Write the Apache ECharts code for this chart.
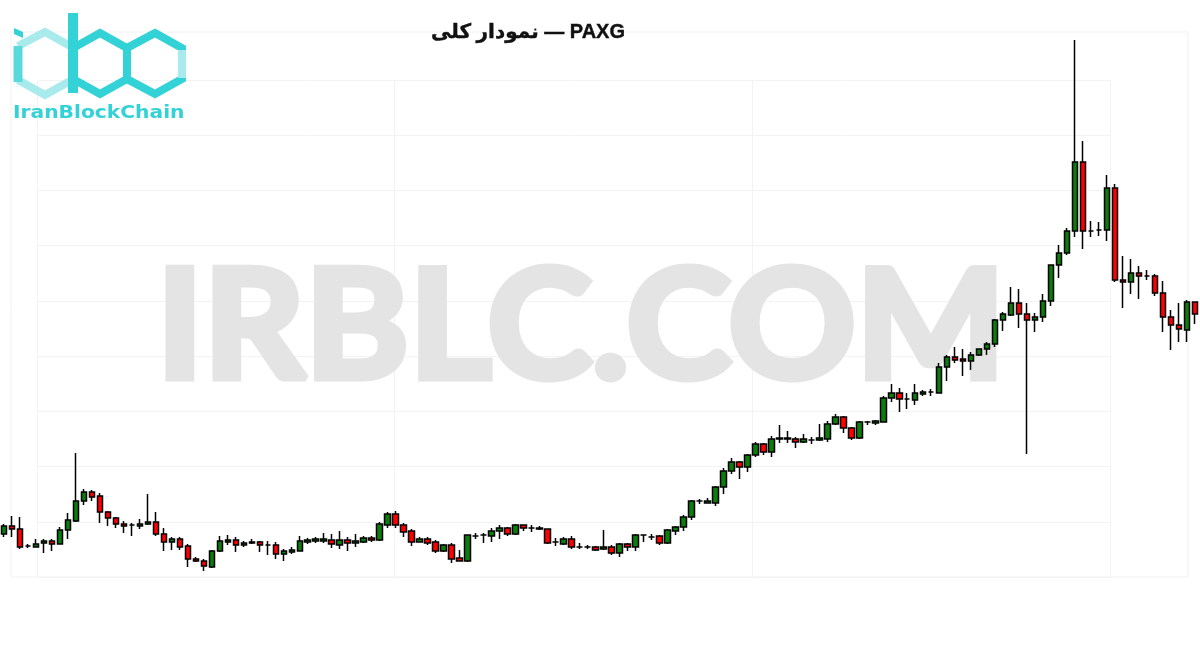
<!DOCTYPE html>
<html>
<head>
<meta charset="utf-8">
<script src="https://cdn.jsdelivr.net/npm/echarts@6/dist/echarts.min.js"></script>
<style>
html,body{margin:0;padding:0;background:#fff;}
#chart{width:1200px;height:650px;}
</style>
</head>
<body>
<div id="chart"></div>
<script>
const titleText = 'نمودار کلی — PAXG';
const watermarkText = 'IRBLC.COM';
const logoText = 'IranBlockChain';

const opens = [
1766,1774,1771,1754,1753,1757,1759,1756,1770,1779,
1799,1808,1804,1788,1782,1776,1775,1774,1776,1778,
1766,1758,1761,1754,1741,1739,1733,1749,1758,1760,
1755,1757,1758,1755,1755,1746,1748,1749,1758,1759,
1759,1760,1755,1760,1757,1758,1762,1760,1775,1786,
1775,1769,1758,1761,1758,1749,1755,1742,1739,1764,
1765,1764,1769,1772,1766,1775,1772,1771,1771,1758,
1756,1761,1753,1753,1753,1751,1753,1747,1756,1753,
1765,1763,1764,1757,1769,1773,1783,1799,1797,1797,
1813,1829,1838,1833,1845,1856,1848,1861,1861,1861,
1858,1860,1860,1861,1876,1883,1872,1862,1878,1877,
1878,1902,1907,1901,1900,1906,1908,1907,1933,1943,
1941,1939,1945,1951,1956,1980,1985,1997,1986,1980,
1983,1999,2035,2047,2069,2138,2069,2070,2070,2112,
2020,2018,2027,2024,2024,2007,1983,1975,1970,1998
];
const closes = [
1774,1771,1753,1754,1756,1759,1756,1770,1780,1799,
1808,1803,1788,1782,1776,1774,1775,1776,1778,1766,
1758,1761,1753,1741,1739,1734,1749,1759,1760,1755,
1757,1758,1755,1755,1746,1749,1750,1759,1760,1761,
1761,1756,1760,1757,1759,1762,1760,1776,1786,1775,
1768,1758,1761,1757,1749,1755,1741,1739,1765,1764,
1765,1769,1772,1766,1775,1772,1772,1772,1757,1758,
1761,1753,1753,1753,1750,1753,1747,1756,1753,1765,
1765,1763,1757,1770,1773,1783,1799,1799,1799,1813,
1829,1838,1833,1845,1856,1848,1861,1862,1862,1858,
1861,1860,1862,1876,1883,1872,1862,1878,1878,1879,
1902,1907,1901,1901,1907,1908,1908,1933,1943,1940,
1939,1945,1951,1956,1980,1986,1997,1986,1980,1983,
1999,2035,2047,2069,2138,2069,2069,2070,2112,2020,
2018,2027,2024,2024,2007,1983,1975,1971,1998,1986
];
const lows = [
1763,1763,1751,1752,1753,1747,1749,1756,1761,1778,
1795,1799,1777,1774,1772,1767,1764,1771,1775,1764,
1749,1750,1750,1733,1738,1729,1732,1748,1755,1748,
1753,1756,1748,1745,1741,1739,1746,1749,1756,1757,
1757,1752,1751,1749,1753,1757,1758,1759,1772,1772,
1763,1754,1758,1755,1747,1748,1737,1739,1738,1761,
1757,1758,1761,1764,1765,1769,1768,1770,1756,1754,
1755,1751,1751,1751,1749,1750,1745,1743,1749,1749,
1758,1760,1755,1756,1765,1769,1780,1796,1797,1794,
1806,1826,1821,1828,1843,1845,1843,1857,1857,1852,
1857,1856,1859,1858,1875,1867,1860,1861,1875,1875,
1878,1898,1888,1891,1895,1904,1904,1907,1919,1937,
1924,1930,1944,1945,1953,1969,1984,1972,1846,1968,
1978,1994,2022,2045,2063,2051,2063,2064,2059,2018,
1992,2006,2001,2020,2004,1968,1950,1958,1958,1976
];
const highs = [
1776,1784,1783,1756,1761,1761,1761,1773,1787,1847,
1811,1810,1807,1789,1783,1779,1777,1781,1806,1788,
1772,1763,1763,1756,1743,1741,1750,1764,1765,1763,
1759,1761,1759,1759,1758,1751,1753,1764,1762,1763,
1767,1766,1769,1763,1766,1764,1764,1778,1788,1789,
1777,1771,1763,1763,1760,1756,1757,1750,1765,1767,
1767,1772,1775,1773,1776,1775,1775,1774,1771,1762,
1763,1764,1757,1755,1754,1770,1755,1757,1757,1766,
1765,1766,1765,1771,1774,1785,1800,1801,1802,1814,
1832,1842,1839,1846,1858,1857,1864,1875,1869,1863,
1866,1863,1876,1879,1886,1884,1873,1879,1879,1880,
1904,1916,1912,1907,1916,1910,1911,1937,1945,1953,
1951,1948,1951,1958,1981,1988,2013,2011,1997,1987,
2006,2035,2055,2072,2260,2159,2079,2078,2125,2116,
2044,2041,2034,2030,2026,2019,1990,1997,2000,1998
];
const categories = opens.map((_, i) => String(i + 1));
const candleData = opens.map((o, i) => [o, closes[i], lows[i], highs[i]]);

const TEAL = '#33d2d6';
const TEAL_LIGHT = '#a9eaec';

const chart = echarts.init(document.getElementById('chart'), null, {renderer: 'canvas'});
chart.setOption({
  animation: false,
  backgroundColor: '#ffffff',
  grid: [
    {left: -1, width: 1200, top: 30, height: 560, show: false},
    {left: 37, width: 1073, top: 80, height: 497, show: false}
  ],
  xAxis: [
    {type: 'category', data: categories, gridIndex: 0, boundaryGap: true,
     axisLine: {show: false}, axisTick: {show: false}, axisLabel: {show: false}, splitLine: {show: false}},
    {type: 'value', gridIndex: 1, min: 0, max: 3, interval: 1,
     axisLine: {show: false}, axisTick: {show: false}, axisLabel: {show: false},
     splitLine: {show: true, lineStyle: {color: '#f3f3f3', width: 1}}}
  ],
  yAxis: [
    {type: 'value', gridIndex: 0, min: 1710, max: 2270, scale: true,
     axisLine: {show: false}, axisTick: {show: false}, axisLabel: {show: false}, splitLine: {show: false}},
    {type: 'value', gridIndex: 1, min: 0, max: 9, interval: 1,
     axisLine: {show: false}, axisTick: {show: false}, axisLabel: {show: false},
     splitLine: {show: true, lineStyle: {color: '#f3f3f3', width: 1}}}
  ],
  graphic: {
    elements: [
      {type: 'rect', z: 0, silent: true,
       shape: {x: 11, y: 32, width: 1177, height: 545},
       style: {fill: 'none', stroke: '#f1f1f1', lineWidth: 1}},
      {type: 'text', z: 1, silent: true, x: 581, y: 329, scaleX: 1.04,
       style: {text: watermarkText, fill: '#e4e4e4', stroke: '#e4e4e4', lineWidth: 7, lineJoin: 'round',
               font: 'bold 152px Lato, "Open Sans", sans-serif',
               textAlign: 'center', textVerticalAlign: 'middle'}},
      {type: 'text', z: 10, silent: true, x: 528, y: 32,
       style: {text: titleText, fill: '#111', stroke: '#111', lineWidth: 0.4,
               font: 'bold 20px "Liberation Sans", "DejaVu Sans", sans-serif',
               textAlign: 'center', textVerticalAlign: 'middle'}},
      // logo
      {type: 'polyline', z: 10, silent: true, shape: {points: [[18,46],[45,32],[72,47]]},
       style: {stroke: TEAL_LIGHT, lineWidth: 8, fill: 'none'}},
      {type: 'polyline', z: 10, silent: true, shape: {points: [[18,80],[45,95],[72,80]]},
       style: {stroke: TEAL_LIGHT, lineWidth: 8, fill: 'none'}},
      {type: 'polyline', z: 10, silent: true, shape: {points: [[18,46],[18,82]]},
       style: {stroke: '#5ad9dc', lineWidth: 9, fill: 'none'}},
      {type: 'polygon', z: 10, silent: true, shape: {points: [[14,28],[23,32],[23,38],[14,34]]},
       style: {fill: TEAL}},
      {type: 'polygon', z: 11, silent: true, shape: {points: [[100,33],[127,48],[127,79],[100,94],[73,79],[73,48]]},
       style: {stroke: TEAL, lineWidth: 8, fill: 'none'}},
      {type: 'polygon', z: 11, silent: true, shape: {points: [[155,33],[182,48],[182,79],[155,94],[127,79],[127,48]]},
       style: {stroke: TEAL, lineWidth: 8, fill: 'none'}},
      {type: 'polyline', z: 12, silent: true, shape: {points: [[182,50],[182,78]]},
       style: {stroke: TEAL_LIGHT, lineWidth: 8, fill: 'none'}},
      {type: 'polyline', z: 12, silent: true, shape: {points: [[73,13],[73,93]]},
       style: {stroke: TEAL, lineWidth: 10, fill: 'none'}},
      {type: 'text', z: 12, silent: true, x: 13, y: 114, scaleX: 1.19, scaleY: 1,
       style: {text: logoText, fill: TEAL, font: 'bold 17px "DejaVu Sans", sans-serif',
               textAlign: 'left', textVerticalAlign: 'middle'}}
    ]
  },
  series: [{
    type: 'candlestick',
    xAxisIndex: 0, yAxisIndex: 0,
    z: 20,
    barWidth: 6,
    data: candleData,
    itemStyle: {
      color: '#0a7d0a',
      color0: '#ff0000',
      borderColor: '#000000',
      borderColor0: '#000000',
      borderColorDoji: '#000000',
      borderWidth: 1.5
    }
  }]
});
</script>
</body>
</html>
